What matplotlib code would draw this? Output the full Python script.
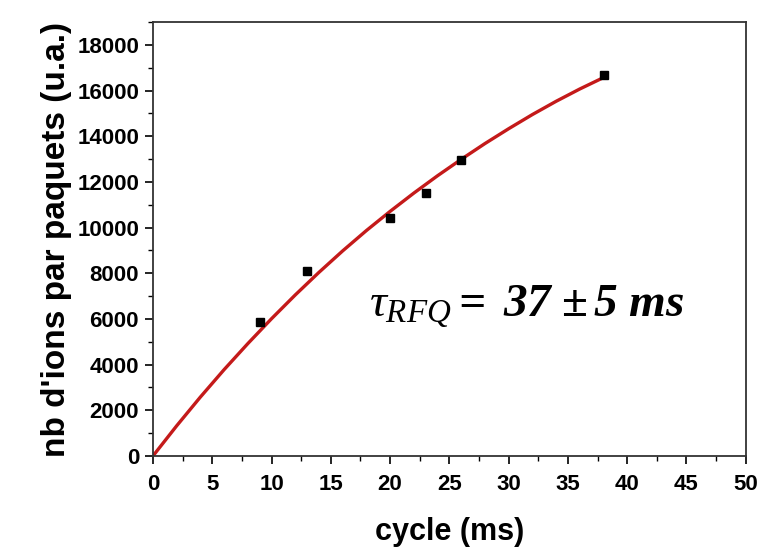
import numpy as np
import matplotlib.pyplot as plt
from matplotlib.ticker import MultipleLocator

# measured points
cycle = [9, 13, 20, 23, 26, 38]
ions = [5850, 8100, 10400, 11520, 12980, 16700]

# fitted curve
fit_x = [0, 2, 4, 6, 8, 10, 12, 14, 16, 18, 20, 22, 24, 26, 28, 30, 32, 34, 36, 38]
fit_y = [0, 1320, 2580, 3780, 4920, 6010, 7050, 8040, 8980, 9870, 10710,
         11510, 12270, 12990, 13680, 14330, 14950, 15530, 16070, 16570]

plt.rcParams['mathtext.fontset'] = 'custom'
plt.rcParams['mathtext.it'] = 'Liberation Serif:italic'
plt.rcParams['mathtext.rm'] = 'Liberation Serif:italic'
plt.rcParams['mathtext.bf'] = 'Liberation Serif:bold:italic'

fig = plt.figure(figsize=(7.61, 5.52), dpi=100)
ax = fig.add_axes([0.201, 0.174, 0.779, 0.786])

ax.plot(fit_x, fit_y, color='#c41a1a', lw=2.4, zorder=2)
ax.plot(cycle, ions, 's', color='black', ms=6, zorder=3)

ax.set_xlim(0, 50)
ax.set_ylim(0, 19000)
ax.xaxis.set_major_locator(MultipleLocator(5))
ax.xaxis.set_minor_locator(MultipleLocator(2.5))
ax.yaxis.set_major_locator(MultipleLocator(2000))
ax.yaxis.set_minor_locator(MultipleLocator(1000))
ax.set_yticks(range(0, 18001, 2000))
ax.tick_params(which='major', direction='out', length=6, width=1.2)
ax.tick_params(which='minor', direction='out', length=3.5, width=1.0)
ax.tick_params(axis='x', pad=7)
ax.tick_params(axis='y', pad=4)
for lab in ax.get_xticklabels() + ax.get_yticklabels():
    lab.set_fontfamily('Liberation Sans')
    lab.set_fontweight('bold')
    lab.set_fontsize(16)
for s in ax.spines.values():
    s.set_linewidth(1.3)
    s.set_color('#333333')

ax.set_xlabel('cycle (ms)', fontsize=22, fontweight='bold',
              family='Liberation Sans', labelpad=16)
ax.set_ylabel("nb d'ions par paquets (u.a.)", fontsize=24, fontweight='bold',
              family='Liberation Sans', labelpad=4)

ax.text(0.365, 0.32, r'$\tau_{RFQ}\mathbf{{=}\ 37\ {\pm}\,5\ ms}$',
        transform=ax.transAxes, fontsize=34, color='black')

fig.savefig('out.png', dpi=100)
